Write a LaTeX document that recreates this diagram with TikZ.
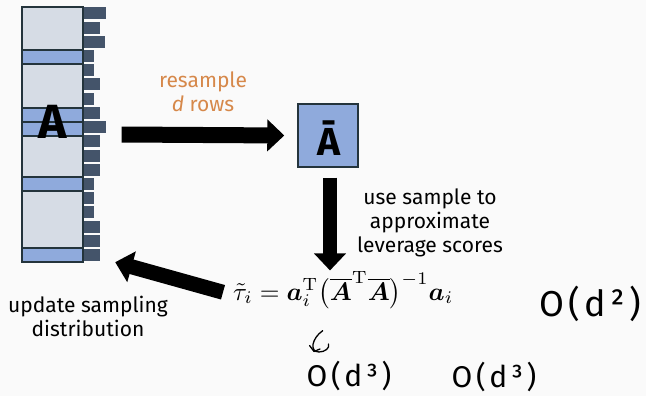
\documentclass[tikz,border=0pt]{standalone}
\usepackage[no-math]{fontspec}
\setmainfont{Fira Sans}
\newfontfamily\handfont[LetterSpace=12]{Fira Sans}
\usepackage{amsmath,bm,graphicx}
\usetikzlibrary{arrows.meta}
\definecolor{pagebg}{HTML}{FAFAFA}
\definecolor{bandlight}{HTML}{D6DCE5}
\definecolor{banddark}{HTML}{8FAADC}
\definecolor{edgedark}{HTML}{24343C}
\definecolor{barslate}{HTML}{44546A}
\definecolor{labelorange}{HTML}{D6884A}
\begin{document}
\begin{tikzpicture}[x=1pt,y=-1pt,
  lightrow/.style={fill=bandlight,draw=edgedark,line width=1.4pt},
  darkrow/.style={fill=banddark,draw=edgedark,line width=1.4pt},
  scorebar/.style={fill=barslate,draw=none},
  bigarrow/.style={line width=#1,-{Triangle[width=31pt,length=17pt]}},
  labeltext/.style={font=\fontsize{21}{24}\selectfont,align=center,inner sep=0pt},
  bigletter/.style={font=\fontsize{#1}{#1}\selectfont\bfseries,inner sep=0pt,anchor=base},
  handnote/.style={font=\handfont\fontsize{#1}{#1}\selectfont,inner sep=0pt,anchor=base},
  pen/.style={line width=1.3pt,line cap=round,line join=round}]

% page
\fill[pagebg] (0,0) rectangle (646,396);
\useasboundingbox (0,0) rectangle (646,396);

% the matrix A as a column of row blocks
\node[minimum width=61pt,minimum height=255pt,inner sep=0pt] (matA) at (52.5,134.5) {};
\draw[lightrow] (22,7)   rectangle (83,50);
\draw[darkrow]  (22,50)  rectangle (83,64);
\draw[lightrow] (22,64)  rectangle (83,108);
\draw[darkrow]  (22,108) rectangle (83,122);
\draw[darkrow]  (22,122) rectangle (83,136);
\draw[lightrow] (22,136) rectangle (83,177);
\draw[darkrow]  (22,177) rectangle (83,191);
\draw[lightrow] (22,191) rectangle (83,248);
\draw[darkrow]  (22,248) rectangle (83,262);

% sampling probabilities, one bar per row
\foreach \w [count=\k from 0] in {22,16,21,10,10,16,10,16,22,16,16,16,10,10,10,16,16,16}
  \fill[scorebar] (84,7.5+14.2*\k) rectangle ++(\w,12);

\node[bigletter=48] (letterA) at (52.5,138.5) {A};

% the sampled matrix
\node[fill=banddark,draw=edgedark,line width=1.4pt,minimum width=60pt,minimum height=63pt,inner sep=0pt] (Abar) at (328,135.5) {};
\node[bigletter=39] (letterAbar) at (329.5,155) {Ā};

% labels
\node[labeltext,text=labelorange,anchor=north] (resample) at (203,72) {resample\\\textit{d} rows};
\node[labeltext,anchor=north] (approx) at (430,189) {use sample to\\approximate\\leverage scores};
\node[labeltext,anchor=north] (update) at (88,296) {update sampling\\distribution};

% leverage score estimate
\node[inner sep=0pt,anchor=base west] (tau) at (233,300)
  {\resizebox{220pt}{!}{$\tilde{\tau}_i = \bm{a}_i^{\mathrm{T}}\bigl(\overline{\bm{A}}^{\mathrm{T}}\overline{\bm{A}}\bigr)^{-1}\bm{a}_i$}};

% flow arrows
\draw[bigarrow=16pt] ([xshift=38.5pt]matA.east) -- ([xshift=-13pt]Abar.west);
\draw[bigarrow=13.5pt] ([xshift=2pt,yshift=-10pt]Abar.south) -- ([xshift=2pt,yshift=1pt]Abar.south |- tau.north);
\draw[bigarrow=15pt] ([xshift=-10pt,yshift=-2pt]tau.west) -- ([xshift=32pt]matA.south east);

% cost notes
\node[handnote=36] (costB) at (590,316) {O(d²)};
\node[handnote=30] (costA) at (349,386) {O(d³)};
\node[handnote=30] (costC) at (494,387) {O(d³)};
\draw[pen] (322.7,330.7) .. controls (312,338) and (309,352) .. (319,352)
  .. controls (325,352) and (330,348) .. (328.5,344);
\draw[pen] (309.5,345.5) -- (314,351.5) -- (320,349);
\end{tikzpicture}
\end{document}
